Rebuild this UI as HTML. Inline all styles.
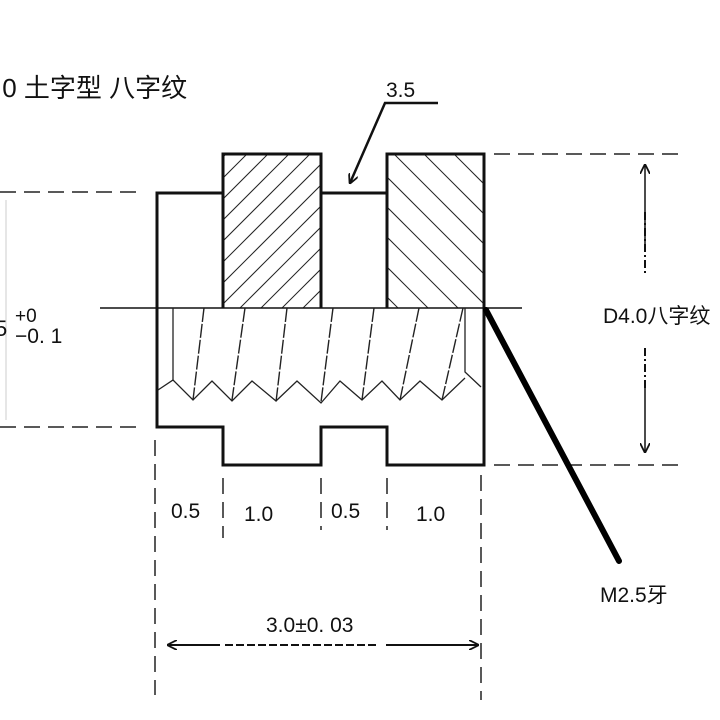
<!DOCTYPE html>
<html><head><meta charset="utf-8"><style>
html,body{margin:0;padding:0;background:#fff;}
svg{display:block;}
text{font-family:"Liberation Sans","Noto Sans CJK SC",sans-serif;fill:#111;}
</style></head><body>
<svg width="720" height="720" viewBox="0 0 720 720" xmlns="http://www.w3.org/2000/svg">
<defs>
<clipPath id="cl"><rect x="223" y="154" width="98" height="154"/></clipPath>
<clipPath id="cr"><rect x="387" y="154" width="97" height="154"/></clipPath>
<marker id="ah" viewBox="0 0 10 10" refX="9" refY="5" markerWidth="10" markerHeight="10" orient="auto-start-reverse" markerUnits="userSpaceOnUse"><path d="M0,0 L10,5 L0,10" fill="none" stroke="#111" stroke-width="1.8"/></marker>
</defs>

<text x="-5" y="97" font-size="26">.0 土字型 八字纹</text>

<!-- hatching -->
<g clip-path="url(#cl)" stroke="#222" stroke-width="1">
<line x1="30" y1="350" x2="280" y2="100"/><line x1="51" y1="350" x2="301" y2="100"/>
<line x1="72" y1="350" x2="322" y2="100"/><line x1="93" y1="350" x2="343" y2="100"/>
<line x1="114" y1="350" x2="364" y2="100"/><line x1="135" y1="350" x2="385" y2="100"/>
<line x1="156" y1="350" x2="406" y2="100"/><line x1="177" y1="350" x2="427" y2="100"/>
<line x1="198" y1="350" x2="448" y2="100"/><line x1="219" y1="350" x2="469" y2="100"/>
<line x1="240" y1="350" x2="490" y2="100"/><line x1="261" y1="350" x2="511" y2="100"/>
<line x1="282" y1="350" x2="532" y2="100"/><line x1="303" y1="350" x2="553" y2="100"/>
</g>
<g clip-path="url(#cr)" stroke="#222" stroke-width="1">
<line x1="240" y1="150" x2="440" y2="350"/><line x1="270" y1="150" x2="470" y2="350"/>
<line x1="300" y1="150" x2="500" y2="350"/><line x1="330" y1="150" x2="530" y2="350"/>
<line x1="360" y1="150" x2="560" y2="350"/><line x1="390" y1="150" x2="590" y2="350"/>
<line x1="420" y1="150" x2="620" y2="350"/><line x1="450" y1="150" x2="650" y2="350"/>
<line x1="480" y1="150" x2="680" y2="350"/>
</g>

<!-- body outline -->
<g fill="none" stroke="#111" stroke-width="3" stroke-linejoin="miter">
<path d="M157,193 H223 V154 H321 V193 H387 V154 H484 V465 H387 V427 H321 V465 H223 V427 H157 Z"/>
<line x1="223" y1="154" x2="223" y2="308"/><line x1="321" y1="193" x2="321" y2="308"/>
<line x1="387" y1="154" x2="387" y2="308"/>
</g>
<line x1="100" y1="308" x2="522" y2="308" stroke="#111" stroke-width="1.5"/>

<!-- threads -->
<polyline fill="none" stroke="#222" stroke-width="1.3" points="158,390 173,380 193,400 212,381 232,401 252,381 276,401 297,381 321,403 340,381 362,400 382,381 400,400 420,381 442,400 465,378"/>
<line x1="173" y1="308" x2="173" y2="380" stroke="#222" stroke-width="1.3"/>
<polyline fill="none" stroke="#222" stroke-width="1.3" points="465,308 465,372 481,387"/>
<g stroke="#222" stroke-width="1.4" stroke-dasharray="14,2">
<line x1="204" y1="308" x2="193" y2="400"/><line x1="245" y1="308" x2="232" y2="400"/>
<line x1="287" y1="308" x2="276" y2="402"/><line x1="333" y1="308" x2="321" y2="402"/>
<line x1="374" y1="308" x2="362" y2="400"/><line x1="419" y1="308" x2="400" y2="400"/>
<line x1="463" y1="308" x2="442" y2="400"/>
</g>

<!-- dashed extension lines -->
<g stroke="#222" stroke-width="1.5" stroke-dasharray="16,8" fill="none">
<line x1="0" y1="192" x2="140" y2="192"/><line x1="0" y1="427" x2="140" y2="427"/>
<line x1="494" y1="154" x2="680" y2="154"/><line x1="494" y1="465" x2="680" y2="465"/>
<line x1="155" y1="440" x2="155" y2="695"/><line x1="481" y1="475" x2="481" y2="700"/>
<line x1="223" y1="478" x2="223" y2="538"/><line x1="321" y1="478" x2="321" y2="530"/>
<line x1="387" y1="478" x2="387" y2="530"/>
</g>

<!-- left dim -->
<line x1="6" y1="200" x2="6" y2="420" stroke="#ccc" stroke-width="1"/>
<text x="-5" y="336" font-size="22">5</text>
<text x="15" y="322" font-size="19">+0</text>
<text x="15" y="343" font-size="21">−0. 1</text>

<!-- right dim -->
<line x1="645" y1="250" x2="645" y2="165" stroke="#111" stroke-width="1.5" marker-end="url(#ah)"/>
<line x1="645" y1="380" x2="645" y2="452" stroke="#111" stroke-width="1.5" marker-end="url(#ah)"/>
<line x1="645" y1="212" x2="645" y2="276" stroke="#111" stroke-width="2" stroke-dasharray="8,3,2,3"/>
<line x1="645" y1="348" x2="645" y2="390" stroke="#111" stroke-width="2" stroke-dasharray="8,3,2,3"/>
<text x="603" y="323" font-size="21">D4.0八字纹</text>

<!-- M2.5 leader -->
<line x1="486" y1="310" x2="619" y2="561" stroke="#000" stroke-width="6" stroke-linecap="round"/>
<text x="600" y="602" font-size="21">M2.5牙</text>

<!-- 3.5 leader -->
<polyline fill="none" stroke="#111" stroke-width="2.5" points="438,103 385,103 350,183" marker-end="url(#ah)"/>
<text x="386" y="97" font-size="21">3.5</text>

<!-- bottom dims -->
<g font-size="21">
<text x="171" y="518">0.5</text><text x="244" y="521">1.0</text>
<text x="331" y="518">0.5</text><text x="416" y="521">1.0</text>
<text x="266" y="632">3.0±0. 03</text>
</g>
<line x1="168" y1="645" x2="220" y2="645" stroke="#111" stroke-width="2" marker-start="url(#ah)"/>
<line x1="225" y1="645" x2="378" y2="645" stroke="#111" stroke-width="2" stroke-dasharray="8,3"/>
<line x1="386" y1="645" x2="478" y2="645" stroke="#111" stroke-width="2" marker-end="url(#ah)"/>
</svg>
</body></html>
